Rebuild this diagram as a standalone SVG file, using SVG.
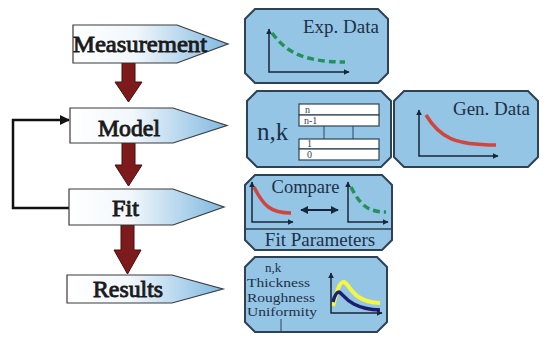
<svg xmlns="http://www.w3.org/2000/svg" width="550" height="339" viewBox="0 0 550 339">
<defs>
<linearGradient id="g" x1="0" y1="0" x2="1" y2="0">
<stop offset="0" stop-color="#ffffff"/>
<stop offset="0.4" stop-color="#f2f7fb"/>
<stop offset="1" stop-color="#7fb9e0"/>
</linearGradient>
<marker id="ax" viewBox="0 0 10 10" refX="9" refY="5" markerWidth="6" markerHeight="6" orient="auto-start-reverse" markerUnits="userSpaceOnUse">
<path d="M0,0 L10,5 L0,10 Z" fill="#17263a"/>
</marker>
<marker id="blk" viewBox="0 0 10 10" refX="9" refY="5" markerWidth="10" markerHeight="10" orient="auto" markerUnits="userSpaceOnUse">
<path d="M0,0 L10,5 L0,10 Z" fill="#111"/>
</marker>
<marker id="dbl" viewBox="0 0 10 10" refX="9" refY="5" markerWidth="8" markerHeight="8" orient="auto-start-reverse" markerUnits="userSpaceOnUse">
<path d="M0,0 L10,5 L0,10 Z" fill="#17263a"/>
</marker>
</defs>
<style>
.step{fill:url(#g);stroke:#3a3a3a;stroke-width:1.2}
.stept{font-family:"Liberation Serif",serif;font-weight:normal;fill:#1a1a1a;stroke:#1a1a1a;stroke-width:0.9;text-anchor:middle}
.down{fill:#7c1a1c;stroke:#4a0c0e;stroke-width:1}
.box{fill:#95c5e5;stroke:#2e4255;stroke-width:2}
.bt{font-family:"Liberation Serif",serif;fill:#1c3048}
.axis{fill:none;stroke:#17263a;stroke-width:1.5}
.red{fill:none;stroke:#d2453f;stroke-width:3.5}
.green{fill:none;stroke:#23925a;stroke-width:3.5;stroke-dasharray:7 4}
.layer{fill:#ffffff;stroke:#2e4255;stroke-width:1.2}
.lt{font-family:"Liberation Serif",serif;font-size:10px;fill:#2e4255}
</style>

<g id="connectors">
<path class="down" d="M122,63 H135 V82 H142 L128.5,102 L115,82 H122 Z"/>
<path class="down" d="M122,143 H135 V165 H142 L128.5,186 L115,165 H122 Z"/>
<path class="down" d="M121,225 H134 V250 H141 L127.5,274 L114,250 H121 Z"/>
<polyline points="69,208 13,208 13,120 69,120" fill="none" stroke="#111" stroke-width="2.5" marker-end="url(#blk)"/>
</g>

<g id="measurement">
<path class="step" d="M73,25 H177 L228,44 L177,63 H73 Z"/>
<text class="stept" x="140" y="52" font-size="24" textLength="134" lengthAdjust="spacingAndGlyphs">Measurement</text>
</g>
<g id="model">
<path class="step" d="M70,108 H173 L227,125.5 L173,143 H70 Z"/>
<text class="stept" x="129" y="136" font-size="24" textLength="62" lengthAdjust="spacingAndGlyphs">Model</text>
</g>
<g id="fit">
<path class="step" d="M69,189 H173 L224,207 L173,225 H69 Z"/>
<text class="stept" x="125.5" y="216" font-size="24" textLength="27" lengthAdjust="spacingAndGlyphs">Fit</text>
</g>
<g id="results">
<path class="step" d="M67,275 H172 L223,289 L172,303 H67 Z"/>
<text class="stept" x="128" y="297" font-size="24" textLength="70" lengthAdjust="spacingAndGlyphs">Results</text>
</g>

<g id="exp-data">
<path class="box" d="M255,9 H378 L388,19 V73 L378,83 H255 L245,73 V19 Z"/>
<text class="bt" x="379" y="33" font-size="19" text-anchor="end">Exp. Data</text>
<polyline class="axis" points="269,29 269,72 349,72" marker-start="url(#ax)" marker-end="url(#ax)"/>
<path class="green" d="M272,33 C285,50 300,62 345,62"/>
</g>

<g id="model-layers">
<path class="box" d="M257,91 H381 L391,101 V157 L381,167 H257 L247,157 V101 Z"/>
<text class="bt" x="257" y="140" font-size="25">n,k</text>
<rect class="layer" x="299" y="104" width="80" height="11"/>
<rect class="layer" x="299" y="115" width="80" height="11"/>
<rect class="layer" x="299" y="139" width="80" height="10"/>
<rect class="layer" x="299" y="149" width="80" height="11"/>
<line x1="324" y1="126" x2="324" y2="139" stroke="#2e4255" stroke-width="1"/>
<line x1="353" y1="126" x2="353" y2="139" stroke="#2e4255" stroke-width="1"/>
<text class="lt" x="305" y="113">n</text>
<text class="lt" x="304" y="124">n-1</text>
<text class="lt" x="307" y="147">1</text>
<text class="lt" x="307" y="158">0</text>
</g>

<g id="gen-data">
<path class="box" d="M404,91 H528 L538,101 V157 L528,167 H404 L394,157 V101 Z"/>
<text class="bt" x="530" y="115" font-size="19" text-anchor="end">Gen. Data</text>
<polyline class="axis" points="419,110 419,156 498,156" marker-start="url(#ax)" marker-end="url(#ax)"/>
<path class="red" d="M426,115 C440,138 455,145 496,145"/>
</g>

<g id="fit-compare">
<path class="box" d="M255,175 H382 L392,185 V240 L382,250 H255 L245,240 V185 Z"/>
<line x1="245" y1="229" x2="392" y2="229" stroke="#2e4255" stroke-width="1.5"/>
<text class="bt" x="305.5" y="193" font-size="18.5" text-anchor="middle">Compare</text>
<polyline class="axis" points="252,182 252,222 293,222" marker-start="url(#ax)" marker-end="url(#ax)"/>
<path class="red" d="M254,187 C263,205 270,213 291,213"/>
<line x1="301" y1="210" x2="338" y2="210" stroke="#17263a" stroke-width="2" marker-start="url(#dbl)" marker-end="url(#dbl)"/>
<polyline class="axis" points="348,182 348,222 388,222" marker-start="url(#ax)" marker-end="url(#ax)"/>
<path class="green" d="M351,187 C360,205 368,212 386,212"/>
<text class="bt" x="320" y="246" font-size="19" text-anchor="middle">Fit Parameters</text>
</g>

<g id="results-box">
<path class="box" d="M255,257 H377 L387,267 V322 L377,332 H255 L245,322 V267 Z"/>
<text class="bt" x="265" y="272" font-size="13">n,k</text>
<text class="bt" x="247" y="287" font-size="13" textLength="63" lengthAdjust="spacingAndGlyphs">Thickness</text>
<text class="bt" x="247" y="301.5" font-size="13" textLength="68" lengthAdjust="spacingAndGlyphs">Roughness</text>
<text class="bt" x="247" y="316" font-size="13" textLength="70" lengthAdjust="spacingAndGlyphs">Uniformity</text>
<line x1="281" y1="319" x2="281" y2="332" stroke="#2e4255" stroke-width="1"/>
<path d="M333,306 C337,290 340,281 344,282 C350,284 352,302 380,303" fill="none" stroke="#f5f542" stroke-width="4"/>
<path d="M333,302 C335,294 337,292 339,292 C343,293 348,309 380,310" fill="none" stroke="#1a1f6e" stroke-width="3.5"/>
<polyline class="axis" points="331,273 331,313 382,313" marker-start="url(#ax)" marker-end="url(#ax)"/>
</g>
</svg>
